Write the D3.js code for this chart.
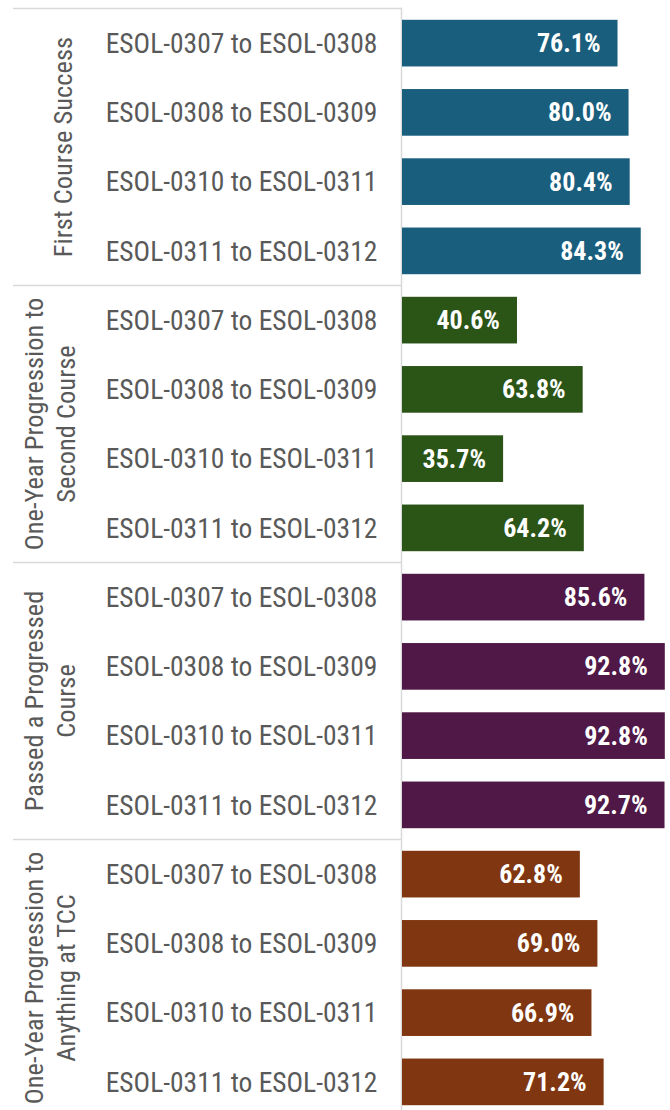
<!DOCTYPE html>
<html>
<head>
<meta charset="utf-8">
<script src="https://cdn.jsdelivr.net/npm/d3@7"></script>
<style>
  html, body { margin: 0; padding: 0; background: #fff; }
  svg { display: block; }
</style>
</head>
<body>
<svg id="chart" width="670" height="1110"></svg>
<script>
// ---- data ----
const groupNames = [
  "First Course Success",
  "One-Year Progression to Second Course",
  "Passed a Progressed Course",
  "One-Year Progression to Anything at TCC"
];
const groupLabelLines = [
  ["First Course Success"],
  ["One-Year Progression to", "Second Course"],
  ["Passed a Progressed", "Course"],
  ["One-Year Progression to", "Anything at TCC"]
];
const categories = [
  "ESOL-0307 to ESOL-0308",
  "ESOL-0308 to ESOL-0309",
  "ESOL-0310 to ESOL-0311",
  "ESOL-0311 to ESOL-0312"
];
const firstCourseSuccess   = [76.1, 80.0, 80.4, 84.3];
const progressionSecond    = [40.6, 63.8, 35.7, 64.2];
const passedProgressed     = [85.6, 92.8, 92.8, 92.7];
const progressionAnything  = [62.8, 69.0, 66.9, 71.2];
const seriesValues = [firstCourseSuccess, progressionSecond, passedProgressed, progressionAnything];
const groupColors = ["#1a5e7e", "#2b5417", "#4f1847", "#7f3611"];

// ---- layout ----
const svg = d3.select("#chart");
const chartTop = 8.5, groupH = 277;
const plotLeft = 402;
const fontFam = "'Liberation Sans Narrow','Arial Narrow','Roboto Condensed','Liberation Sans',Arial,sans-serif";

const rows = [];
groupNames.forEach((g, gi) => {
  categories.forEach((c, ci) => {
    rows.push({ id: gi + "|" + ci, group: gi, cat: c, value: seriesValues[gi][ci] });
  });
});

const y = d3.scaleBand()
  .domain(rows.map(d => d.id))
  .range([chartTop, chartTop + groupH * groupNames.length])
  .paddingInner(0.326)
  .paddingOuter(0.163);

const x = d3.scaleLinear().domain([0, 100]).range([plotLeft, plotLeft + 283.2]);

// grid lines
const lineColor = "#d9d9d9";
svg.append("line")
  .attr("x1", 13).attr("x2", plotLeft).attr("y1", chartTop).attr("y2", chartTop)
  .attr("stroke", lineColor).attr("stroke-width", 1.5);
for (let g = 1; g < groupNames.length; g++) {
  const yy = chartTop + g * groupH;
  svg.append("line")
    .attr("x1", 13).attr("x2", plotLeft).attr("y1", yy).attr("y2", yy)
    .attr("stroke", lineColor).attr("stroke-width", 1.5);
}
svg.append("line")
  .attr("x1", plotLeft - 0.5).attr("x2", plotLeft - 0.5).attr("y1", chartTop - 0.75).attr("y2", 1110)
  .attr("stroke", lineColor).attr("stroke-width", 1.5);

// bars
svg.append("g").selectAll("rect").data(rows).join("rect")
  .attr("x", x(0))
  .attr("y", d => y(d.id))
  .attr("width", d => x(d.value) - x(0))
  .attr("height", y.bandwidth())
  .attr("fill", d => groupColors[d.group]);

// value labels
svg.append("g").selectAll("text").data(rows).join("text")
  .attr("x", d => x(d.value) - 17)
  .attr("y", d => y(d.id) + y.bandwidth() / 2)
  .attr("dy", "0.35em")
  .attr("text-anchor", "end")
  .attr("font-family", fontFam)
  .attr("font-weight", "bold")
  .attr("font-size", 26)
  .attr("fill", "#fff")
  .text(d => d.value.toFixed(1) + "%");

// category labels
svg.append("g").selectAll("text").data(rows).join("text")
  .attr("x", 241.5)
  .attr("y", d => y(d.id) + y.bandwidth() / 2)
  .attr("dy", "0.35em")
  .attr("text-anchor", "middle")
  .attr("font-family", fontFam)
  .attr("font-size", 27.5)
  .attr("fill", "#595959")
  .text(d => d.cat);

// group labels (rotated)
groupLabelLines.forEach((lines, gi) => {
  const cy = chartTop + gi * groupH + groupH / 2;
  const n = lines.length;
  lines.forEach((ln, li) => {
    const bx = (n === 1 ? 72 : 43) + li * 32;
    svg.append("text")
      .attr("transform", `translate(${bx},${cy}) rotate(-90)`)
      .attr("text-anchor", "middle")
      .attr("font-family", fontFam)
      .attr("font-size", 26.5)
      .attr("fill", "#595959")
      .text(ln);
  });
});
</script>
</body>
</html>
